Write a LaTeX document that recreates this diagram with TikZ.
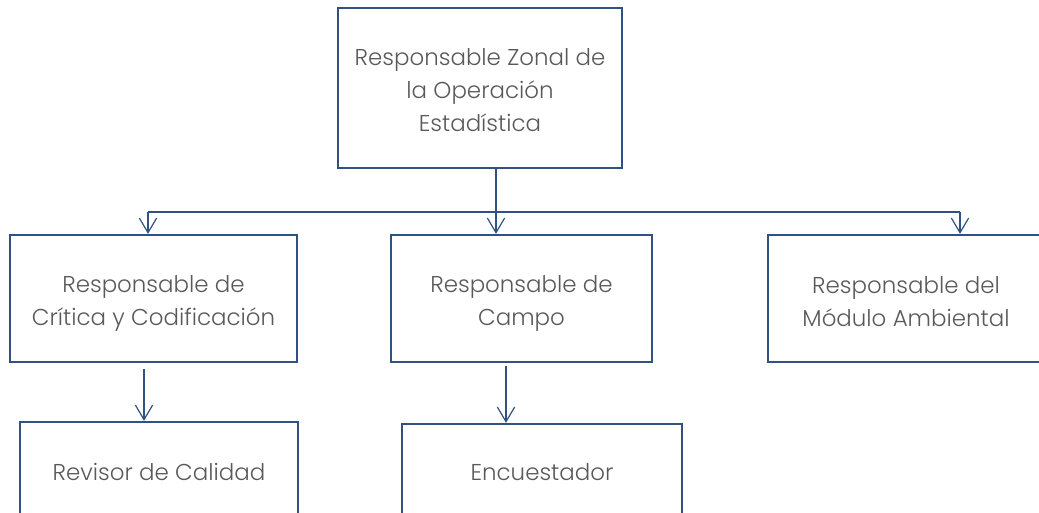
\documentclass[tikz,border=0pt]{standalone}
\usepackage{fontspec}
\setmainfont{Poppins Light}
\usetikzlibrary{arrows.meta}
\definecolor{boxblue}{HTML}{2F5283}
\definecolor{txtgray}{HTML}{595959}
\begin{document}
\begin{tikzpicture}[x=0.75pt,y=-0.75pt,
  orgbox/.style={draw=boxblue,line width=1.7pt,rectangle,inner sep=0pt},
  boxtext/.style={align=center,text=txtgray,
    font=\fontsize{17.2pt}{24.75pt}\selectfont,inner sep=0pt},
  link/.style={draw=boxblue,line width=0.9pt},
  arr/.style={link,-{Straight Barb[length=11pt,width=13pt,line width=0.9pt]}}]
\useasboundingbox (0,0) rectangle (1039,513);
\clip (0,0) rectangle (1039,513);
% boxes
\node[orgbox,minimum width=213pt,minimum height=120pt] (top) at (480,88) {};
\node[orgbox,minimum width=215.25pt,minimum height=95.25pt] (c1) at (153.5,298.5) {};
\node[orgbox,minimum width=195.75pt,minimum height=95.25pt] (c2) at (521.5,298.5) {};
\node[orgbox,minimum width=207pt,minimum height=95.25pt] (c3) at (906,298.5) {};
\node[orgbox,minimum width=208.5pt,minimum height=75pt] (d1) at (159,472) {};
\node[orgbox,minimum width=210pt,minimum height=75pt] (d2) at (542,474) {};
% texts
\node[boxtext] (ttop) at ([yshift=-1.7pt]top.center) {Responsable Zonal de\\la Operación\\Estadística};
\node[boxtext] (tc1) at ([yshift=-4pt]c1.center) {Responsable de\\Crítica y Codificación};
\node[boxtext] (tc2) at ([yshift=-4pt]c2.center) {Responsable de\\Campo};
\node[boxtext] (tc3) at ([yshift=-2pt]c3.center) {Responsable del\\Módulo Ambiental};
\node[boxtext] (td1) at (d1.center) {Revisor de Calidad};
\node[boxtext] (td2) at ([yshift=1.5pt]d2.center) {Encuestador};
% connectors
\coordinate (j) at (496,212);
\coordinate (bl) at (148,212);
\coordinate (br) at (960,212);
\coordinate (s1) at (144,369);
\coordinate (s2) at (506,366);
\draw[link] (top.south -| j) -- (j);
\draw[link] (bl) -- (br);
\draw[arr] (bl) -- (c1.north -| bl);
\draw[arr] (j) -- (c2.north -| j);
\draw[arr] (br) -- (c3.north -| br);
\draw[arr] (s1) -- (d1.north -| s1);
\draw[arr] (s2) -- (d2.north -| s2);
\end{tikzpicture}
\end{document}
